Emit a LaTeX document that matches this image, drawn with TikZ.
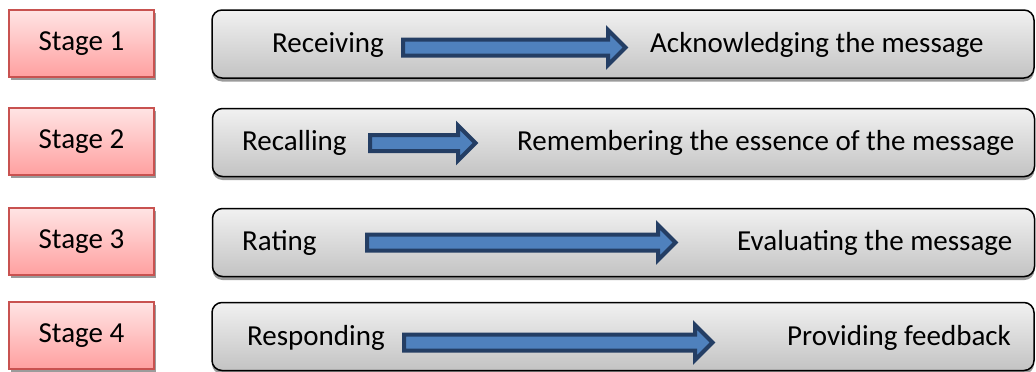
\documentclass[tikz,border=0pt]{standalone}
\usepackage{fontspec}
\setmainfont{Carlito}
\usetikzlibrary{shadows}
\definecolor{stagefillt}{RGB}{255,228,228}
\definecolor{stagefillb}{RGB}{255,160,160}
\definecolor{stageborder}{RGB}{200,82,80}
\definecolor{boxt}{RGB}{241,241,241}
\definecolor{boxb}{RGB}{195,195,195}
\definecolor{arrfill}{RGB}{79,129,189}
\definecolor{arrline}{RGB}{36,62,100}
\definecolor{shadowgrey}{RGB}{155,155,155}
\newcommand\blockarrow[4]{%
  \coordinate (#1s) at (#2,#4);
  \coordinate (#1e) at (#3,#4);
  \draw[blockarr] (#2+2,#4-8) -- (#3-20,#4-8) -- (#3-20,#4-17.5) -- (#3-2.5,#4)
    -- (#3-20,#4+17.5) -- (#3-20,#4+8) -- (#2+2,#4+8) -- cycle;}
\begin{document}
\begin{tikzpicture}[x=1pt,y=-1pt,
  stagebox/.style={draw=stageborder, line width=1.2pt, top color=stagefillt,
    bottom color=stagefillb, minimum width=145pt, minimum height=67pt, inner sep=0pt,
    font=\fontsize{29}{34}\selectfont,
    drop shadow={shadow xshift=2pt, shadow yshift=-3pt, fill=shadowgrey, opacity=1}},
  rowbox/.style={draw=black, line width=1.5pt, rounded corners=10pt, top color=boxt,
    bottom color=boxb, minimum width=822pt, minimum height=68pt, inner sep=0pt,
    drop shadow={shadow xshift=0pt, shadow yshift=-3.5pt, fill=shadowgrey, opacity=1}},
  lbl/.style={anchor=base west, inner sep=0pt, font=\fontsize{29}{34}\selectfont},
  blockarr/.style={draw=arrline, fill=arrfill, line width=4pt, line join=miter}]
\useasboundingbox (0,0) rectangle (1036,372);
% stage boxes
\node[stagebox] (s1) at (81.5,43.5) {Stage 1};
\node[stagebox] (s2) at (81.5,141.5) {Stage 2};
\node[stagebox] (s3) at (81.5,241.5) {Stage 3};
\node[stagebox] (s4) at (81.5,335.5) {Stage 4};
% row boxes
\node[rowbox] (b1) at (623,44) {};
\node[rowbox] (b2) at (623.5,142.5) {};
\node[rowbox] (b3) at (623.5,242.5) {};
\node[rowbox] (b4) at (623,336.5) {};
% labels
\node[lbl] (l1) at (272,52) {Receiving};
\node[lbl] (r1) at (650,52) {Acknowledging the message};
\node[lbl] (l2) at (242,150) {Recalling};
\node[lbl] (r2) at (517,150) {Remembering the essence of the message};
\node[lbl] (l3) at (242,250) {Rating};
\node[lbl] (r3) at (737,250) {Evaluating the message};
\node[lbl] (l4) at (247,345) {Responding};
\node[lbl] (r4) at (787,345) {Providing feedback};
% block arrows
\blockarrow{a1}{401}{628}{47.5}
\blockarrow{a2}{368}{478}{143}
\blockarrow{a3}{365}{678}{242.5}
\blockarrow{a4}{402}{715}{342.5}
\end{tikzpicture}
\end{document}
